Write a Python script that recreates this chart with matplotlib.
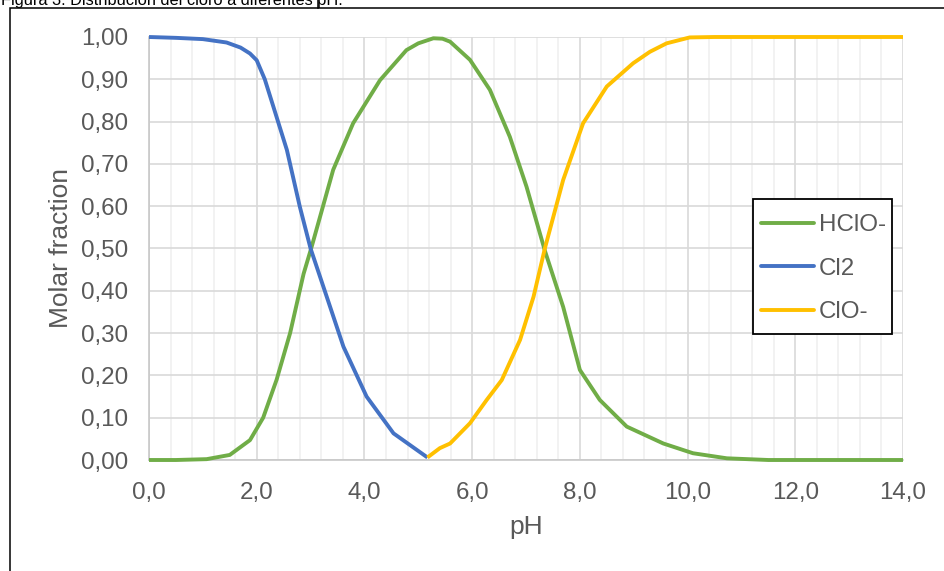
import matplotlib
matplotlib.use('Agg')
from matplotlib import pyplot as plt
from matplotlib.patches import Rectangle
from matplotlib.lines import Line2D
from matplotlib.ticker import MultipleLocator, FuncFormatter

plt.rcParams['font.family'] = ['Liberation Sans', 'DejaVu Sans']

# fraction of each chlorine species against pH
ph_cl2 = [0, 0.5, 1.0, 1.44, 1.7, 1.875, 2.0, 2.15, 2.31, 2.56, 2.80, 3.0,
          3.30, 3.61, 4.04, 4.54, 5.17]
cl2 = [1.0, 0.998, 0.995, 0.987, 0.975, 0.961, 0.945, 0.90, 0.835, 0.733,
       0.599, 0.50, 0.386, 0.268, 0.150, 0.063, 0.006]

ph_hclo = [0, 0.5, 1.07, 1.5, 1.875, 2.12, 2.37, 2.62, 2.87, 3.02, 3.42,
           3.79, 4.29, 4.78, 5.0, 5.28, 5.45, 5.59, 5.96, 6.33, 6.70, 7.01,
           7.35, 7.69, 8.0, 8.37, 8.87, 9.55, 10.1, 10.73, 11.5, 12, 13, 14]
hclo = [0, 0, 0.002, 0.012, 0.047, 0.10, 0.19, 0.30, 0.44, 0.504, 0.686,
        0.796, 0.898, 0.969, 0.985, 0.997, 0.996, 0.989, 0.946, 0.875, 0.764,
        0.646, 0.495, 0.362, 0.213, 0.142, 0.079, 0.039, 0.016, 0.004, 0.0,
        0, 0, 0]

ph_clo = [5.17, 5.40, 5.59, 5.96, 6.27, 6.55, 6.89, 7.14, 7.35, 7.69, 8.06,
          8.50, 8.99, 9.30, 9.61, 10.04, 10.5, 11, 12, 13, 14]
clo = [0.006, 0.028, 0.039, 0.087, 0.142, 0.189, 0.284, 0.386, 0.50, 0.662,
       0.796, 0.883, 0.938, 0.965, 0.985, 0.999, 1.0, 1, 1, 1, 1]

green = '#70AD47'
blue = '#4472C4'
yellow = '#FFC000'
txt = '#595959'

W, H = 945, 571
fig = plt.figure(figsize=(W / 100, H / 100), dpi=100)
ax = fig.add_axes([149 / W, 1 - 460 / H, 754 / W, 423 / H])

ax.plot(ph_hclo, hclo, color=green, lw=2.8, clip_on=False, zorder=3, solid_capstyle='butt')
ax.plot(ph_cl2, cl2, color=blue, lw=2.8, clip_on=False, zorder=3, solid_capstyle='butt')
ax.plot(ph_clo, clo, color=yellow, lw=2.8, clip_on=False, zorder=3, solid_capstyle='butt')

ax.set_xlim(0, 14)
ax.set_ylim(0, 1.0)
ax.xaxis.set_major_locator(MultipleLocator(2))
ax.xaxis.set_minor_locator(MultipleLocator(0.4))
ax.yaxis.set_major_locator(MultipleLocator(0.1))
ax.xaxis.set_major_formatter(FuncFormatter(lambda v, p: f'{v:.1f}'.replace('.', ',')))
ax.yaxis.set_major_formatter(FuncFormatter(lambda v, p: f'{v:.2f}'.replace('.', ',')))

ax.grid(which='major', color='#D9D9D9', lw=1.2)
ax.grid(which='minor', axis='x', color='#F0F0F0', lw=1.2)
ax.set_axisbelow(True)
for s in ['top', 'right']:
    ax.spines[s].set_visible(False)
for s in ['left', 'bottom']:
    ax.spines[s].set_color('#C8C8C8')
    ax.spines[s].set_linewidth(1.2)

ax.tick_params(which='both', length=0, labelsize=17.4, labelcolor=txt)
ax.tick_params(axis='y', pad=15)
ax.tick_params(axis='x', pad=16)

ax.set_xlabel('pH', fontsize=19, color=txt, labelpad=8)
ax.set_ylabel('Molar fraction', fontsize=19, color=txt, labelpad=6)

# legend box drawn separately so its padding can be set per side
ax.add_patch(Rectangle((753 / W, 1 - 334 / H), 139 / W, 135 / H,
                       transform=fig.transFigure, facecolor='white',
                       edgecolor='black', lw=1.3, zorder=4))
handles = [Line2D([], [], color=green, lw=2.8, solid_capstyle='round'),
           Line2D([], [], color=blue, lw=2.8, solid_capstyle='round'),
           Line2D([], [], color=yellow, lw=2.8, solid_capstyle='round')]
leg = ax.legend(handles, ['HClO-', 'Cl2', 'ClO-'], loc='upper left',
                bbox_to_anchor=((746 - 149) / 754, (460 - 199) / 423),
                fontsize=17.4, frameon=False, handlelength=2.2,
                handletextpad=0.2, labelspacing=0.9, borderpad=0.62,
                borderaxespad=0, labelcolor=txt)
leg.set_zorder(5)

# outer frame and caption box
fig.patches.append(Rectangle((10 / W, -0.1), 1.2, 1 - 8 / H + 0.1,
                             transform=fig.transFigure, fill=False,
                             edgecolor='black', lw=1.1))
fig.add_artist(Line2D([318 / W, 318 / W], [1 - 8 / H, 1.01],
                      transform=fig.transFigure, color='black', lw=1.1))
fig.text(1 / W, 1 - 4.5 / H, 'Figura 3. Distribución del cloro a diferentes pH.',
         fontsize=11.8, color='black', va='baseline', ha='left')

fig.savefig('out.png', dpi=100)
